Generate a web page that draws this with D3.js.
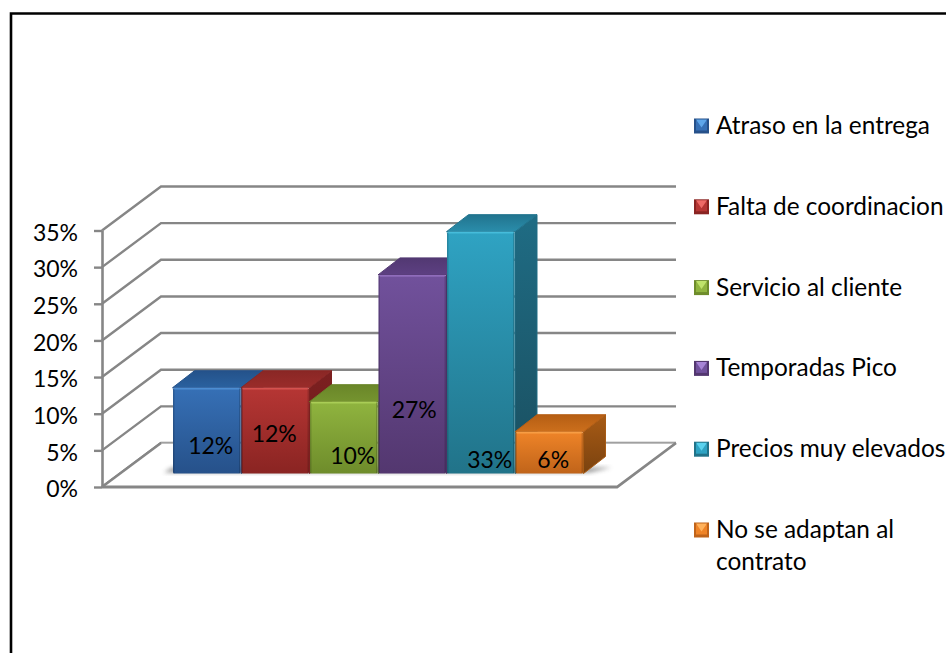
<!DOCTYPE html>
<html>
<head>
<meta charset="utf-8">
<script src="https://cdnjs.cloudflare.com/ajax/libs/d3/7.8.5/d3.min.js"></script>
<style>
    html, body { margin: 0; padding: 0; background: #fff; overflow: hidden; }
    svg { display: block; }
    text { font-family: Lato, "Open Sans", sans-serif; fill: #000; }
</style>
</head>
<body>
<div id="chart"></div>
<script>
// chart data
const categories = ["Atraso en la entrega", "Falta de coordinacion", "Servicio al cliente",
    "Temporadas Pico", "Precios muy elevados", "No se adaptan al contrato"];
const values = [11.7, 11.7, 9.8, 27.1, 33.0, 5.7];
const valueLabels = ["12%", "12%", "10%", "27%", "33%", "6%"];
const yTicks = [0, 5, 10, 15, 20, 25, 30, 35];

// front top, front bottom, top face back, top face front, side top, side bottom, legend light
const palette = [
    ["#3670b6", "#26518a", "#24528a", "#2a619f", "#1f4a7c", "#1a3f6b", "#5ea6ea"],
    ["#b63634", "#8a2422", "#8a2725", "#9a2c2a", "#7c2020", "#6a1b1b", "#ee6a66"],
    ["#90b43f", "#6e8c2b", "#6a8629", "#75942f", "#5f7a24", "#52691f", "#bfe26a"],
    ["#71519c", "#53376f", "#523872", "#5d4082", "#4a3166", "#3e2958", "#a784d6"],
    ["#2fa3c3", "#217389", "#21748e", "#2a8dab", "#1f6c84", "#1a4f60", "#5ad2ee"],
    ["#ef8428", "#c0641a", "#b55e14", "#cc6f1c", "#a85b15", "#7a420f", "#ffb25c"]
];
// the labels were dragged by hand in the original
const labelNudge = [[4, -20], [-1, -32], [9, -10], [2, -56], [9, -6], [4, -6]];

const width = 946, height = 653;
const x0 = 102, floorRight = 617;
const wallDx = 59, wallDy = -44;
const barDx = 22, barDy = -17, barBase = 13.5;
const lineColor = "#868686";

const svg = d3.select("#chart").append("svg")
    .attr("width", width)
    .attr("height", height);

const defs = svg.append("defs");
defs.append("filter").attr("id", "soft")
    .attr("x", "-30%").attr("y", "-60%").attr("width", "160%").attr("height", "220%")
    .append("feGaussianBlur").attr("stdDeviation", 2);

function vGrad(id, top, bottom) {
    let g = defs.append("linearGradient").attr("id", id)
        .attr("x1", 0).attr("y1", 0).attr("x2", 0).attr("y2", 1);
    g.append("stop").attr("offset", "0%").attr("stop-color", top);
    g.append("stop").attr("offset", "100%").attr("stop-color", bottom);
}
palette.forEach((c, i) => {
    vGrad("front" + i, c[0], c[1]);
    vGrad("top" + i, c[2], c[3]);
    vGrad("side" + i, c[4], c[5]);
});

// outer frame, only the top and left sides are inside the picture
svg.append("path")
    .attr("d", `M11,${height} V13.5 H${width}`)
    .attr("fill", "none")
    .attr("stroke", "#000")
    .attr("stroke-width", 2.6);

// scales
const y = d3.scaleLinear().domain([0, 35]).range([487, 230.5]);
const x = d3.scaleBand().domain(categories).range([172.5, 583.5]);

// side wall diagonals and back wall lines
const wall = svg.append("g").attr("stroke", lineColor).attr("stroke-width", 2.4).attr("fill", "none");
wall.selectAll("path")
    .data(yTicks)
    .enter()
    .append("path")
    .attr("d", d => `M${x0},${y(d)} L${x0 + wallDx},${y(d) + wallDy} H${floorRight + wallDx}`);

// floor
svg.append("path")
    .attr("d", `M${x0 + wallDx},${y(0) + wallDy} H${floorRight + wallDx} L${floorRight},${y(0)} H${x0} Z`)
    .attr("fill", "#fff")
    .attr("stroke", "none");
svg.append("path")
    .attr("d", `M${x0 + wallDx},${y(0) + wallDy} H${floorRight + wallDx}`)
    .attr("stroke", "#a8a8a8")
    .attr("stroke-width", 1.5);
svg.append("path")
    .attr("d", `M${x0},${y(0)} L${x0 + wallDx},${y(0) + wallDy}`)
    .attr("stroke", lineColor)
    .attr("stroke-width", 2.4);
svg.append("path")
    .attr("d", `M${x0},${y(0)} H${floorRight} L${floorRight + wallDx},${y(0) + wallDy}`)
    .attr("fill", "none")
    .attr("stroke", lineColor)
    .attr("stroke-width", 2.8);

// shadow under the bars
const baseY = y(0) - barBase;
svg.append("path")
    .attr("d", `M164,${baseY - 1} L172,${baseY - 6} H${x.range()[1] + barDx + 6} L${x.range()[1] + 6},${baseY - 1} Z`)
    .attr("fill", "#555")
    .attr("opacity", 0.6)
    .attr("filter", "url(#soft)");

// y axis
const yAxis = svg.append("g")
    .attr("transform", `translate(${x0},0)`)
    .call(d3.axisLeft(y).tickValues(yTicks).tickFormat(d => d + "%").tickSize(8).tickSizeOuter(0).tickPadding(16));
yAxis.selectAll("line").attr("stroke", lineColor).attr("stroke-width", 2.4);
yAxis.select(".domain").attr("stroke", lineColor).attr("stroke-width", 2.6);
yAxis.selectAll("text").attr("font-size", 23).attr("dy", "0.42em").style("font-family", "Lato");

// bars, left to right so each one covers the side of the previous
const bw = x.bandwidth();
const bars = svg.selectAll(".bar")
    .data(categories)
    .enter()
    .append("g")
    .attr("class", "bar");

const topY = (i) => y(values[i]) - barBase;

bars.append("path")
    .attr("d", (d, i) => {
        let r = x(d) + bw;
        return `M${r},${topY(i)} L${r + barDx},${topY(i) + barDy} V${baseY + barDy} L${r},${baseY} Z`;
    })
    .attr("fill", (d, i) => `url(#side${i})`)
    .attr("stroke", (d, i) => palette[i][4])
    .attr("stroke-width", 1)
    .attr("stroke-linejoin", "round");

bars.append("path")
    .attr("d", (d, i) => {
        let l = x(d);
        return `M${l},${topY(i)} L${l + barDx},${topY(i) + barDy} H${l + bw + barDx} L${l + bw},${topY(i)} Z`;
    })
    .attr("fill", (d, i) => `url(#top${i})`)
    .attr("stroke", (d, i) => palette[i][2])
    .attr("stroke-width", 1)
    .attr("stroke-linejoin", "round");

bars.append("rect")
    .attr("x", d => x(d) + 0.5)
    .attr("y", (d, i) => topY(i))
    .attr("width", bw - 1)
    .attr("height", (d, i) => baseY - topY(i))
    .attr("rx", 1.5)
    .attr("fill", (d, i) => `url(#front${i})`);

// bevel: light edge on top, darker edges at the sides
bars.append("rect")
    .attr("x", d => x(d) + 1.5)
    .attr("y", (d, i) => topY(i))
    .attr("width", bw - 3)
    .attr("height", 1.8)
    .attr("fill", (d, i) => palette[i][6])
    .attr("opacity", 0.55);
bars.append("rect")
    .attr("x", d => x(d) + 0.5)
    .attr("y", (d, i) => topY(i) + 1)
    .attr("width", 1.5)
    .attr("height", (d, i) => baseY - topY(i) - 1)
    .attr("fill", "#000")
    .attr("opacity", 0.16);
bars.append("rect")
    .attr("x", d => x(d) + bw - 2)
    .attr("y", (d, i) => topY(i) + 1)
    .attr("width", 1.5)
    .attr("height", (d, i) => baseY - topY(i) - 1)
    .attr("fill", "#000")
    .attr("opacity", 0.16);

// value labels go on top of all the bars
svg.selectAll(".value-label")
    .data(valueLabels)
    .enter()
    .append("text")
    .attr("class", "value-label")
    .attr("text-anchor", "middle")
    .attr("font-size", 23)
    .attr("x", (d, i) => x(categories[i]) + bw / 2 + labelNudge[i][0])
    .attr("y", (d, i) => baseY + labelNudge[i][1])
    .text(d => d);

// legend
const legendY = d3.scalePoint().domain(categories).range([126, 530]);
const legendLines = { "No se adaptan al contrato": ["No se adaptan al", "contrato"] };
const keyX = 694, keySize = 15, textX = 716;

const legend = svg.selectAll(".legend")
    .data(categories)
    .enter()
    .append("g")
    .attr("class", "legend")
    .attr("transform", d => `translate(${keyX},${legendY(d)})`);

// the key is a small bevelled square: dark base with a light triangle on top
legend.append("rect")
    .attr("x", 0).attr("y", -keySize / 2)
    .attr("width", keySize).attr("height", keySize)
    .attr("fill", (d, i) => palette[i][1]);
legend.append("path")
    .attr("d", `M2,${-keySize / 2 + 2} H${keySize - 2} V${keySize / 2 - 3} H2 Z`)
    .attr("fill", (d, i) => palette[i][0]);
legend.append("path")
    .attr("d", `M2,${-keySize / 2 + 1} H${keySize - 2} L${keySize / 2},${keySize / 2 - 6} Z`)
    .attr("fill", (d, i) => palette[i][6]);

legend.append("text")
    .attr("x", textX - keyX)
    .attr("y", 8)
    .attr("font-size", 24.4)
    .selectAll("tspan")
    .data(d => legendLines[d] || [d])
    .enter()
    .append("tspan")
    .attr("x", textX - keyX)
    .attr("dy", (d, i) => i ? 32 : 0)
    .text(d => d);
</script>
</body>
</html>
